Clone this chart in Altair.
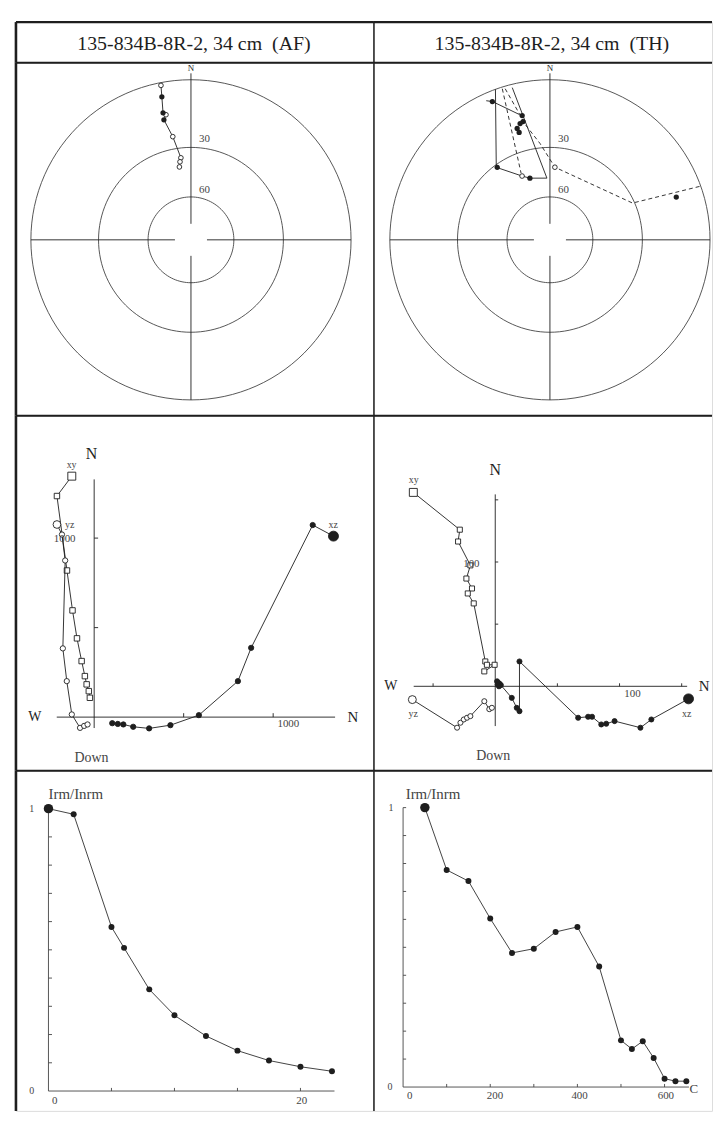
import altair as alt
import pandas as pd

FONT = "Liberation Serif"
INK = "#1e1e1e"
GREY = "#444444"

# ---------------- data ----------------
TITLES = ["135-834B-8R-2, 34 cm\u00a0 (AF)", "135-834B-8R-2, 34 cm\u00a0 (TH)"]

# stereonet (equal-angle), declination / inclination in degrees (negative = upper hemisphere)
RINGS = [0, 30, 60]
AF_DEC = [349, 348.5, 347.6, 348.7, 347.3, 350, 353, 352, 351]
AF_INC = [-1, 5.3, 11.8, -12.9, 14.9, -23.6, -35.4, -37.6, -40.5]

TH_DEC = [337.4, 347.4, 343.6, 345.6, 347.2, 344, 324, 342, 71.3, 3.9, 336.4]
TH_INC = [3.8, 13, 18.1, 16.3, 15.7, 20.2, 31.5, 45.9, 10.4, -41.1, -43]

TH_SOLID_DEC = [335.4, 337.4, 346.2, 340.1, 323.5, 336.4, 342, 357.2, 346.1]
TH_SOLID_INC = [2.6, 3.8, 12.2, 0, 31.2, 43, 45.9, 47.8, 1.2]
TH_SOLID_SEG = ["a", "a", "a", "b", "b", "b", "b", "b", "b"]
TH_DASH_DEC = [342.5, 336.6, 343.5, 348.2, 354.1, 3.9, 66, 70.4]
TH_DASH_INC = [0.6, 41.2, 0.9, 17.8, 27.6, 41.1, 31.1, 0]
TH_DASH_SEG = ["c", "c", "d", "d", "d", "d", "d", "d"]

# Zijderveld diagrams (H: +N / -W ; V: +N / -Down)
AF_XY_H = [-125, -208, -152, -121, -96, -70, -52, -42, -30, -24]
AF_XY_V = [1346, 1235, 819, 596, 440, 313, 229, 183, 145, 108]
AF_YZ_H = [-208, -180, -162, -175, -153, -125, -79, -56, -37]
AF_YZ_V = [1076, 1020, 875, 384, 201, 15, -60, -49, -41]
AF_XZ_H = [1337, 1221, 877, 803, 585, 426, 307, 218, 163, 132, 101]
AF_XZ_V = [1011, 1073, 387, 201, 11, -45, -63, -54, -41, -38, -34]

TH_XY_H = [-65.9, -28.5, -29.9, -20, -23.2, -18.7, -22.1, -17.3, -8, -6.7, -0.5, -8.8]
TH_XY_V = [156, 126, 116.5, 97.3, 86.7, 78.7, 74.7, 66.7, 20, 17.3, 17.3, 12]
TH_YZ_H = [-66.7, -30.7, -28, -25.3, -22.7, -20, -8.8, -4.8, -2.7]
TH_YZ_V = [-10.7, -33.3, -29.3, -26.7, -25.3, -24, -12, -18.4, -17.3]
TH_XZ_H = [155.5, 125.6, 116.8, 96, 89.3, 85.3, 77.9, 74.7, 66.7, 19.5, 19.5, 17.3, 13.3,
           4.5, 3.5, 2.7, 1.5, 3, 2]
TH_XZ_V = [-10.1, -26.7, -33.3, -28, -30.1, -30.7, -24.5, -24.5, -25.3, 20, -20, -17.3, -9.3,
           1, 2, 2.7, 4, 0, 1.5]

# intensity decay
AF_FIELD = [0, 2, 5, 6, 8, 10, 12.5, 15, 17.5, 20, 22.5]
AF_IRM = [1.0, 0.98, 0.581, 0.507, 0.36, 0.268, 0.195, 0.143, 0.108, 0.086, 0.07]
TH_TEMP = [50, 100, 150, 200, 250, 300, 350, 400, 450, 500, 525, 550, 575, 600, 625, 650]
TH_IRM = [1.0, 0.777, 0.737, 0.603, 0.48, 0.495, 0.555, 0.573, 0.431, 0.167, 0.136, 0.164, 0.104, 0.03, 0.021, 0.021]

Y_TICKS = [0.1, 0.2, 0.3, 0.4, 0.5, 0.6, 0.7, 0.8, 0.9, 1.0]
AF_X_TICKS = [5, 10, 15, 20]
TH_X_TICKS = [100, 200, 300, 400, 500, 600]

# ---------------- layout ----------------
W_L, W_R = 360, 340
H_HEAD, H_STEREO, H_ZIJ, H_DECAY = 41, 355, 357, 342

ONE = alt.Data(values=[{"k": 0}])


def sc(d):
    return alt.Scale(domain=d, nice=False, zero=False)


def X(xs, v=None, field=None):
    if field is not None:
        return alt.X(field, type="quantitative", scale=xs, axis=None)
    return alt.X(datum=v, scale=xs, axis=None)


def Y(ys, v=None, field=None):
    if field is not None:
        return alt.Y(field, type="quantitative", scale=ys, axis=None)
    return alt.Y(datum=v, scale=ys, axis=None)


def txt(xs, ys, s, x, y, size=12, align="center", color=INK, baseline="middle"):
    return alt.Chart(ONE).mark_text(text=s, font=FONT, fontSize=size, align=align,
                                    baseline=baseline, color=color).encode(
        x=X(xs, x), y=Y(ys, y))


def seg(xs, ys, x1, y1, x2, y2, width=0.9, color=INK):
    return alt.Chart(ONE).mark_rule(color=color, strokeWidth=width).encode(
        x=X(xs, x1), y=Y(ys, y1), x2=alt.X2(datum=x2), y2=alt.Y2(datum=y2))


def hticks(xs, ys, vals, y0, length, color=INK):
    return alt.Chart(pd.DataFrame({"t": vals})).mark_rule(color=color, strokeWidth=0.9).encode(
        x=X(xs, field="t"), y=Y(ys, y0), y2=alt.Y2(datum=y0 + length))


def vticks(xs, ys, vals, x0, length, color=INK):
    return alt.Chart(pd.DataFrame({"t": vals})).mark_rule(color=color, strokeWidth=0.9).encode(
        y=Y(ys, field="t"), x=X(xs, x0), x2=alt.X2(datum=x0 + length))


def frame(w, h, col, top_w=1.5):
    """panel border lines (left edge and top edge of each cell)"""
    left_w = 2.6 if col == 0 else 1.5
    return [
        alt.Chart(ONE).mark_rule(color=INK, strokeWidth=top_w).encode(
            x=alt.value(0), x2=alt.value(w), y=alt.value(0)),
        alt.Chart(ONE).mark_rule(color=INK, strokeWidth=left_w).encode(
            x=alt.value(0), y=alt.value(0), y2=alt.value(h)),
    ]


def cell(layers, w, h, col, top_w=1.5):
    return alt.layer(*(layers + frame(w, h, col, top_w))).properties(width=w, height=h)


PROJ = dict(
    r="tan((90 - abs(datum.inc)) * PI / 360)",
    px="datum.r * sin(datum.dec * PI / 180)",
    py="datum.r * cos(datum.dec * PI / 180)",
)


def header(i, w):
    t = alt.Chart(ONE).mark_text(text=TITLES[i], font=FONT, fontSize=20, color=INK).encode(
        x=alt.value(179), y=alt.value(22))
    return cell([t], w, H_HEAD, i, top_w=2.2)


def stereo(col, w, xd, yd, dec, inc, solid, dashed):
    xs, ys = sc(xd), sc(yd)
    ring_rows = [{"ring": r, "az": a} for r in RINGS for a in range(0, 361, 3)]
    rings = alt.Chart(pd.DataFrame(ring_rows)).transform_calculate(
        inc="datum.ring", dec="datum.az").transform_calculate(**PROJ).mark_line(
        color=GREY, strokeWidth=0.9).encode(
        x=X(xs, field="px"), y=Y(ys, field="py"), detail="ring:N", order="az:Q")
    layers = [rings,
              seg(xs, ys, -1, 0, -0.1, 0), seg(xs, ys, 0.1, 0, 1, 0),
              seg(xs, ys, 0, 1.04, 0, 0.1), seg(xs, ys, 0, -0.1, 0, -1),
              txt(xs, ys, "N", 0, 1.075, size=9),
              txt(xs, ys, "30", 0.05, 0.63, size=11, align="left", color=GREY),
              txt(xs, ys, "60", 0.05, 0.31, size=11, align="left", color=GREY)]
    for d, dash in ((solid, None), (dashed, [4, 3])):
        if d is None:
            continue
        ld, li, ls = d
        df = pd.DataFrame({"dec": ld, "inc": li, "seg": ls, "i": list(range(len(ld)))})
        kw = {"strokeDash": dash} if dash else {}
        layers.append(alt.Chart(df).transform_calculate(**PROJ).mark_line(
            color=INK, strokeWidth=0.9, **kw).encode(
            x=X(xs, field="px"), y=Y(ys, field="py"), detail="seg:N", order="i:Q"))
    pts = pd.DataFrame({"dec": dec, "inc": inc})
    base = alt.Chart(pts).transform_calculate(**PROJ)
    layers.append(base.transform_filter("datum.inc < 0").mark_point(
        shape="circle", filled=True, fill="white", stroke=INK, strokeWidth=0.9, size=22, opacity=1).encode(
        x=X(xs, field="px"), y=Y(ys, field="py")))
    layers.append(base.transform_filter("datum.inc >= 0").mark_point(
        shape="circle", filled=True, fill=INK, size=28, opacity=1).encode(
        x=X(xs, field="px"), y=Y(ys, field="py")))
    return cell(layers, w, H_STEREO, col, top_w=2.0)


def series(xs, ys, h, v, shape, filled, size, big):
    df = pd.DataFrame({"h": h, "v": v, "i": list(range(len(h)))})
    base = alt.Chart(df)
    line = base.mark_line(color=INK, strokeWidth=0.9).encode(
        x=X(xs, field="h"), y=Y(ys, field="v"), order="i:Q")
    fill = INK if filled else "white"
    pk = dict(shape=shape, filled=True, fill=fill, stroke=INK, strokeWidth=0.9, opacity=1)
    small = base.transform_filter("datum.i > 0").mark_point(size=size, **pk).encode(
        x=X(xs, field="h"), y=Y(ys, field="v"))
    first = base.transform_filter("datum.i == 0").mark_point(size=big, **pk).encode(
        x=X(xs, field="h"), y=Y(ys, field="v"))
    return [line, small, first]


def zij_af():
    xs, ys = sc([-437, 1563]), sc([-300, 1683])
    L = [seg(xs, ys, -209, 0, 1346, 0), seg(xs, ys, 0, -61, 0, 1328),
         hticks(xs, ys, [500, 1000], 0, 22), vticks(xs, ys, [500, 1000], 0, 22)]
    L += series(xs, ys, AF_XY_H, AF_XY_V, "square", False, 30, 64)
    L += series(xs, ys, AF_YZ_H, AF_YZ_V, "circle", False, 28, 60)
    L += series(xs, ys, AF_XZ_H, AF_XZ_V, "circle", True, 28, 100)
    L += [txt(xs, ys, "N", -15, 1467, size=16),
          txt(xs, ys, "W", -332, 0, size=14),
          txt(xs, ys, "N", 1446, 0, size=15),
          txt(xs, ys, "Down", -15, -228, size=14, color=GREY),
          txt(xs, ys, "1000", 1085, -39, size=11, color=GREY),
          txt(xs, ys, "1000", -165, 994, size=11, color=GREY),
          txt(xs, ys, "xy", -126, 1411, size=10, color=GREY),
          txt(xs, ys, "yz", -137, 1072, size=10, color=GREY),
          txt(xs, ys, "xz", 1336, 1072, size=10, color=GREY)]
    return cell(L, W_L, H_ZIJ, 0, top_w=2.0)


def zij_th():
    xs, ys = sc([-97.6, 174.4]), sc([-68, 217.6])
    L = [seg(xs, ys, -65.6, 0, 154.4, 0), seg(xs, ys, 0, -32, 0, 154.4),
         hticks(xs, ys, [-50, 50, 100, 150], 0, 2.4), vticks(xs, ys, [50, 100, 150], 0, 2.4)]
    L += series(xs, ys, TH_XY_H, TH_XY_V, "square", False, 26, 64)
    L += series(xs, ys, TH_YZ_H, TH_YZ_V, "circle", False, 26, 64)
    L += series(xs, ys, TH_XZ_H, TH_XZ_V, "circle", True, 26, 100)
    L += [txt(xs, ys, "N", 0, 174, size=16),
          txt(xs, ys, "W", -84, 0, size=14),
          txt(xs, ys, "N", 168, 0, size=15),
          txt(xs, ys, "Down", -1.6, -56, size=14, color=GREY),
          txt(xs, ys, "100", 110.4, -6.4, size=11, color=GREY),
          txt(xs, ys, "100", -19.2, 98.4, size=11, color=GREY),
          txt(xs, ys, "xy", -65.6, 166, size=10, color=GREY),
          txt(xs, ys, "yz", -66, -22.4, size=10, color=GREY),
          txt(xs, ys, "xz", 154, -22.4, size=10, color=GREY)]
    return cell(L, W_R, H_ZIJ, 1, top_w=2.0)


def decay(col, w, xd, yd, xv, yv, xend, xticks, xlen, ylen, labels):
    xs, ys = sc(xd), sc(yd)
    df = pd.DataFrame({"x": xv, "y": yv, "i": list(range(len(xv)))})
    base = alt.Chart(df)
    L = [seg(xs, ys, 0, 0, xend, 0, color=GREY), seg(xs, ys, 0, 0, 0, 1.0, color=GREY),
         hticks(xs, ys, xticks, 0, ylen, color=GREY), vticks(xs, ys, Y_TICKS, 0, xlen, color=GREY),
         base.mark_line(color=GREY, strokeWidth=1).encode(x=X(xs, field="x"), y=Y(ys, field="y"), order="i:Q"),
         base.transform_filter("datum.i > 0").mark_point(shape="circle", filled=True, fill=INK, size=36, opacity=1).encode(
             x=X(xs, field="x"), y=Y(ys, field="y")),
         base.transform_filter("datum.i == 0").mark_point(shape="circle", filled=True, fill=INK, size=90, opacity=1).encode(
             x=X(xs, field="x"), y=Y(ys, field="y"))]
    for (s, x, y, size, align) in labels:
        L.append(txt(xs, ys, s, x, y, size=size, align=align, color=GREY))
    return cell(L, w, H_DECAY, col, top_w=2.0)


cells = [
    header(0, W_L), header(1, W_R),
    stereo(0, W_L, [-1.0932, 1.1429], [-1.0994, 1.1056], AF_DEC, AF_INC,
           (AF_DEC, AF_INC, ["s"] * len(AF_DEC)), None),
    stereo(1, W_R, [-1.0994, 1.0124], [-1.0994, 1.1056], TH_DEC, TH_INC,
           (TH_SOLID_DEC, TH_SOLID_INC, TH_SOLID_SEG), (TH_DASH_DEC, TH_DASH_INC, TH_DASH_SEG)),
    zij_af(), zij_th(),
    decay(0, W_L, [-2.58, 25.83], [-0.0704, 1.134], AF_FIELD, AF_IRM, 22.7, AF_X_TICKS, 0.28, 0.011,
          [("Irm/Inrm", 0, 1.053, 15, "left"), ("1", -1.32, 1.0, 10, "center"),
           ("0", -1.32, 0, 10, "center"), ("0", 0.5, -0.036, 11, "center"),
           ("20", 20.1, -0.036, 11, "center")]),
    decay(1, W_R, [-66.9, 708.9], [-0.0854, 1.1317], TH_TEMP, TH_IRM, 656, TH_X_TICKS, 7, 0.011,
          [("Irm/Inrm", 6, 1.05, 15, "left"), ("1", -28, 1.0, 10, "center"),
           ("0", -30, 0, 10, "center"), ("0", 15, -0.033, 11, "center"),
           ("200", 211, -0.033, 11, "center"), ("400", 405, -0.033, 11, "center"),
           ("600", 603, -0.033, 11, "center"), ("C", 667, -0.007, 13, "center")]),
]

chart = alt.concat(*cells, columns=2, spacing=0, bounds="flush", align="each").properties(
    padding={"left": 6, "top": 9, "right": 0, "bottom": 2}
).configure_view(strokeWidth=0, stroke="transparent").configure(background="white")

chart.save("out.html", embed_options={"renderer": "svg", "actions": False})
